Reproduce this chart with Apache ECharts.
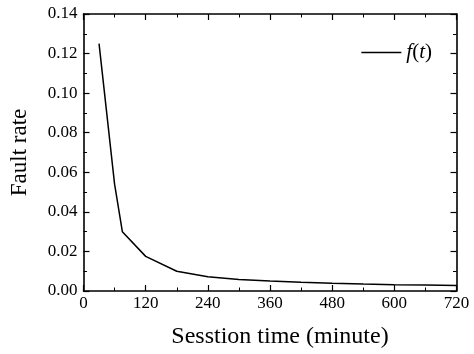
<!DOCTYPE html>
<html><head><meta charset="utf-8">
<script src="https://cdn.jsdelivr.net/npm/echarts@6/dist/echarts.min.js"></script>
<style>html,body{margin:0;padding:0;background:#fff}#c{width:474px;height:354px}</style>
</head><body><div id="c"></div>
<script>
const timeMinutes = [30, 60, 75, 120, 180, 240, 300, 360, 420, 480, 540, 600, 660, 720];
const faultRate = [0.125, 0.054, 0.030, 0.0175, 0.0100, 0.0072, 0.0058, 0.0050, 0.0044, 0.0039, 0.0035, 0.0032, 0.0030, 0.0028];
const seriesName = 'f(t)';
const xTitle = 'Sesstion time (minute)';
const yTitle = 'Fault rate';

const font = '"Liberation Serif", "Times New Roman", serif';
const axisLine = {show: true, onZero: false, lineStyle: {color: '#000', width: 1.6}};
const tick = {show: true, inside: true, length: 6, lineStyle: {color: '#000', width: 1.2}};
const minor = {show: true, splitNumber: 2, length: 3.5, lineStyle: {color: '#000', width: 1}};
const chart = echarts.init(document.getElementById('c'));
chart.setOption({
  animation: false,
  backgroundColor: '#fff',
  grid: {left: 83.5, right: 17.5, top: 14, bottom: 62},
  legend: {
    data: [{name: seriesName, icon: 'rect'}], right: 37, top: 37, itemWidth: 40, itemHeight: 1.6, itemGap: 2,
    formatter: () => '{i|f}({i|t})',
    textStyle: {fontFamily: font, fontSize: 21, color: '#000', rich: {i: {fontFamily: font, fontStyle: 'italic', fontSize: 21, color: '#000'}}}
  },
  xAxis: [{
    type: 'value', min: 0, max: 720, interval: 120, position: 'bottom',
    name: xTitle, nameLocation: 'middle', nameGap: 34,
    nameTextStyle: {fontFamily: font, fontSize: 24, color: '#000', padding: [0, 0, 0, 20]},
    axisLine, axisTick: tick, minorTick: minor, splitLine: {show: false},
    axisLabel: {fontFamily: font, fontSize: 17, color: '#000', margin: 4}
  }, {
    type: 'value', min: 0, max: 720, interval: 120, position: 'top',
    axisLine, axisTick: tick, minorTick: minor, splitLine: {show: false}, axisLabel: {show: false}
  }],
  yAxis: [{
    type: 'value', min: 0, max: 0.14, interval: 0.02, position: 'left',
    name: yTitle, nameLocation: 'middle', nameGap: 52, nameRotate: 90,
    nameTextStyle: {fontFamily: font, fontSize: 23, color: '#000'},
    axisLine, axisTick: tick, minorTick: minor, splitLine: {show: false},
    axisLabel: {fontFamily: font, fontSize: 17, color: '#000', margin: 6, formatter: v => v.toFixed(2)}
  }, {
    type: 'value', min: 0, max: 0.14, interval: 0.02, position: 'right',
    axisLine, axisTick: tick, minorTick: minor, splitLine: {show: false}, axisLabel: {show: false}
  }],
  series: [{
    name: seriesName, type: 'line', symbol: 'none',
    lineStyle: {color: '#000', width: 1.5},
    itemStyle: {color: '#000'},
    data: timeMinutes.map((t, i) => [t, faultRate[i]])
  }]
});
</script></body></html>
